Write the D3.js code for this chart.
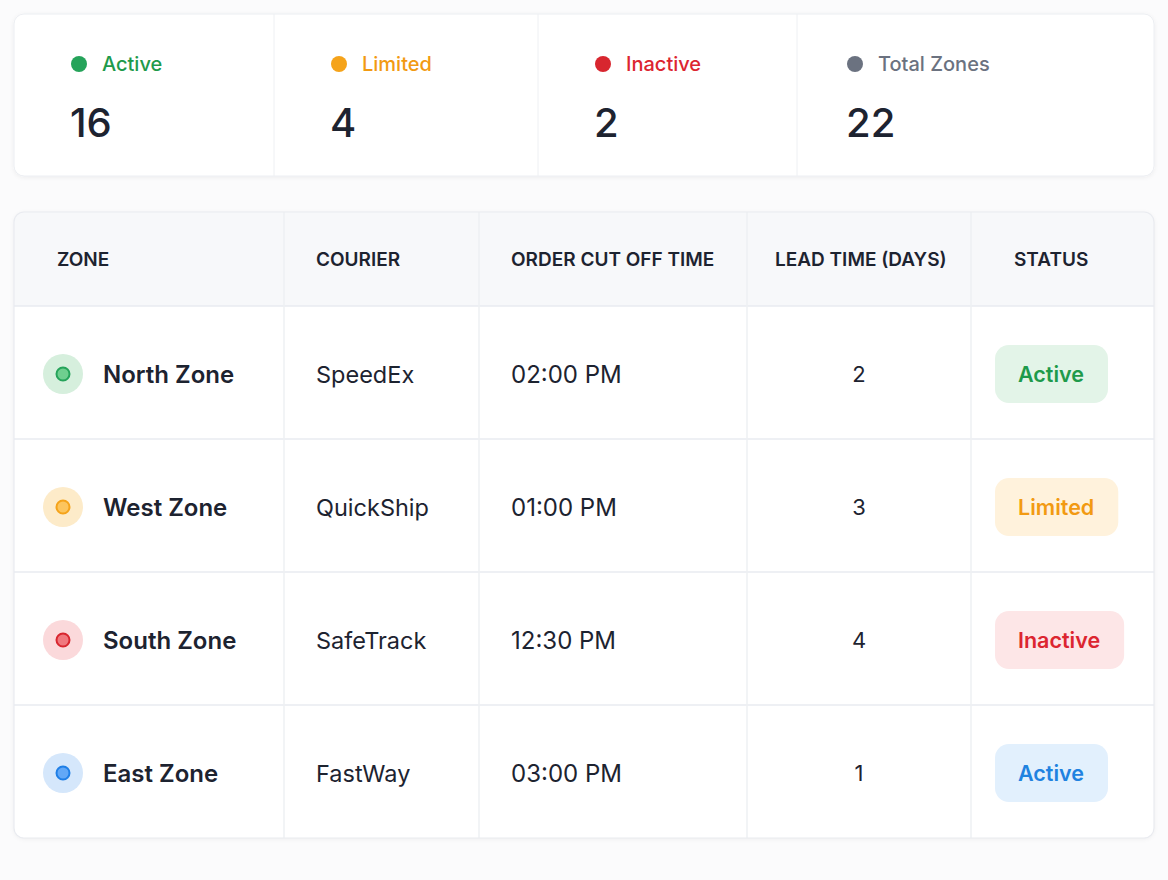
<!DOCTYPE html>
<html>
<head>
<meta charset="utf-8">
<script src="https://cdn.jsdelivr.net/npm/d3@7"></script>
<style>
  html, body { margin: 0; padding: 0; background: #fbfbfc; }
  svg { display: block; font-family: Inter, "Noto Sans", sans-serif; }
</style>
</head>
<body>
<svg id="chart"></svg>
<script>
// summary counts
const summaryLabels = ["Active", "Limited", "Inactive", "Total Zones"];
const summaryValues = [16, 4, 2, 22];
const summaryKinds = ["green", "orange", "red", "gray"];

// table
const headers = ["ZONE", "COURIER", "ORDER CUT OFF TIME", "LEAD TIME (DAYS)", "STATUS"];
const zones = ["North Zone", "West Zone", "South Zone", "East Zone"];
const couriers = ["SpeedEx", "QuickShip", "SafeTrack", "FastWay"];
const cutOffTimes = ["02:00 PM", "01:00 PM", "12:30 PM", "03:00 PM"];
const leadDays = [2, 3, 4, 1];
const statuses = ["Active", "Limited", "Inactive", "Active"];
const zoneKinds = ["green", "orange", "red", "blue"];

const palette = {
  green:  {fg: "#1e9a4b", dot: "#25a35a", inner: "#6fcf8f", bg: "#e3f4e8", ring: "#d6efdd"},
  orange: {fg: "#f29a12", dot: "#f5a31a", inner: "#fcc55e", bg: "#fff2dc", ring: "#fdebc9"},
  red:    {fg: "#dc2530", dot: "#d8262f", inner: "#f0787e", bg: "#fde6e7", ring: "#fbd9db"},
  blue:   {fg: "#1f82e0", dot: "#1f7fe6", inner: "#62a8f7", bg: "#e2f0fd", ring: "#d5e7fb"},
  gray:   {fg: "#6b7280", dot: "#6b7280", inner: "#9ca3af", bg: "#f1f2f4", ring: "#e5e7eb"}
};

const W = 1168, H = 880;
const ink = "#1d2330", line = "#e9ebf0";

const svg = d3.select("#chart").attr("width", W).attr("height", H);

const defs = svg.append("defs");
const f = defs.append("filter").attr("id", "shadow")
  .attr("x", "-5%").attr("y", "-10%").attr("width", "110%").attr("height", "130%");
f.append("feDropShadow").attr("dx", 0).attr("dy", 1).attr("stdDeviation", 2)
  .attr("flood-color", "#1d2330").attr("flood-opacity", 0.06);

// ---------- summary card ----------
const card = {x: 14, y: 14, w: 1140, h: 162};
const statEdges = [14, 274, 538, 797, 1154];
const statPad = [58, 58, 58, 51]; // left padding of each cell

svg.append("rect")
  .attr("x", card.x).attr("y", card.y).attr("width", card.w).attr("height", card.h)
  .attr("rx", 10).attr("fill", "#fff").attr("stroke", "#eceef2")
  .attr("filter", "url(#shadow)");

const stats = svg.append("g").selectAll("g")
  .data(summaryLabels).enter().append("g")
  .attr("transform", (d, i) => `translate(${statEdges[i] + statPad[i]},${card.y})`);

stats.filter((d, i) => i > 0).append("line")
  .attr("x1", (d, i) => -statPad[i + 1]).attr("x2", (d, i) => -statPad[i + 1])
  .attr("y1", 0).attr("y2", card.h)
  .attr("stroke", "#eef0f3");

stats.append("circle")
  .attr("cx", 7).attr("cy", 50).attr("r", 8)
  .attr("fill", (d, i) => palette[summaryKinds[i]].dot);

stats.append("text")
  .attr("x", 30).attr("y", 57)
  .attr("font-size", 20).attr("font-weight", 500)
  .attr("fill", (d, i) => palette[summaryKinds[i]].fg)
  .text(d => d);

stats.append("text")
  .attr("x", -2).attr("y", 123)
  .attr("font-size", 40).attr("font-weight", 500).attr("fill", ink)
  .text((d, i) => summaryValues[i]);

// ---------- table ----------
const tbl = {x: 14, y: 212, w: 1140, h: 626, head: 94};
const colEdges = [14, 284, 479, 747, 971, 1154];
const headX = [57, 316, 511, 775, 1014];

const rowY = d3.scaleBand()
  .domain(zones)
  .range([tbl.y + tbl.head, tbl.y + tbl.h]);

const clip = defs.append("clipPath").attr("id", "tblclip");
clip.append("rect").attr("x", tbl.x).attr("y", tbl.y)
  .attr("width", tbl.w).attr("height", tbl.h).attr("rx", 10);

svg.append("rect")
  .attr("x", tbl.x).attr("y", tbl.y).attr("width", tbl.w).attr("height", tbl.h)
  .attr("rx", 10).attr("fill", "#fff").attr("filter", "url(#shadow)");

const body = svg.append("g").attr("clip-path", "url(#tblclip)");

body.append("rect")
  .attr("x", tbl.x).attr("y", tbl.y).attr("width", tbl.w).attr("height", tbl.head)
  .attr("fill", "#f7f8fa");

// horizontal rules
body.selectAll("line.hr").data(zones).enter().append("line")
  .attr("class", "hr")
  .attr("x1", tbl.x).attr("x2", tbl.x + tbl.w)
  .attr("y1", d => rowY(d)).attr("y2", d => rowY(d))
  .attr("stroke", line).attr("stroke-width", 1.5);

// vertical rules
body.selectAll("line.vr").data(colEdges.slice(1, -1)).enter().append("line")
  .attr("class", "vr")
  .attr("x1", d => d).attr("x2", d => d)
  .attr("y1", tbl.y).attr("y2", tbl.y + tbl.h)
  .attr("stroke", "#eef0f3").attr("stroke-width", 1.5);

svg.append("rect")
  .attr("x", tbl.x).attr("y", tbl.y).attr("width", tbl.w).attr("height", tbl.h)
  .attr("rx", 10).attr("fill", "none").attr("stroke", "#e9ebf0").attr("stroke-width", 1.2);

// header labels
svg.append("g").selectAll("text").data(headers).enter().append("text")
  .attr("x", (d, i) => headX[i]).attr("y", tbl.y + tbl.head / 2 + 7)
  .attr("font-size", 19).attr("font-weight", 600).attr("fill", ink)
  .text(d => d);

// rows
const rows = svg.append("g").selectAll("g.row")
  .data(zones).enter().append("g")
  .attr("class", "row")
  .attr("transform", d => `translate(0,${rowY(d) + rowY.bandwidth() / 2 + 1.5})`);

rows.append("circle")
  .attr("cx", 63).attr("cy", 0).attr("r", 20)
  .attr("fill", (d, i) => palette[zoneKinds[i]].ring);
rows.append("circle")
  .attr("cx", 63).attr("cy", 0).attr("r", 6.5)
  .attr("fill", (d, i) => palette[zoneKinds[i]].inner)
  .attr("stroke", (d, i) => palette[zoneKinds[i]].dot).attr("stroke-width", 2);

rows.append("text")
  .attr("x", 103).attr("y", 9)
  .attr("font-size", 24).attr("font-weight", 600).attr("fill", ink)
  .text(d => d);

rows.append("text")
  .attr("x", 316).attr("y", 9)
  .attr("font-size", 23.5).attr("fill", ink)
  .text((d, i) => couriers[i]);

rows.append("text")
  .attr("x", 511).attr("y", 9)
  .attr("font-size", 24).attr("fill", ink)
  .text((d, i) => cutOffTimes[i]);

rows.append("text")
  .attr("x", (colEdges[3] + colEdges[4]) / 2).attr("y", 8)
  .attr("text-anchor", "middle")
  .attr("font-size", 22).attr("fill", ink)
  .text((d, i) => leadDays[i]);

// status badges
const badges = rows.append("g").attr("transform", "translate(995,0)");
badges.append("text")
  .attr("x", 23).attr("y", 8)
  .attr("font-size", 21.5).attr("font-weight", 600)
  .attr("fill", (d, i) => palette[zoneKinds[i]].fg)
  .text((d, i) => statuses[i]);
badges.each(function(d) {
  const g = d3.select(this);
  const w = g.select("text").node().getComputedTextLength() + 47;
  g.insert("rect", "text")
    .attr("x", 0).attr("y", -29).attr("width", w).attr("height", 58)
    .attr("rx", 14)
    .attr("fill", palette[zoneKinds[zones.indexOf(d)]].bg);
});
</script>
</body>
</html>
